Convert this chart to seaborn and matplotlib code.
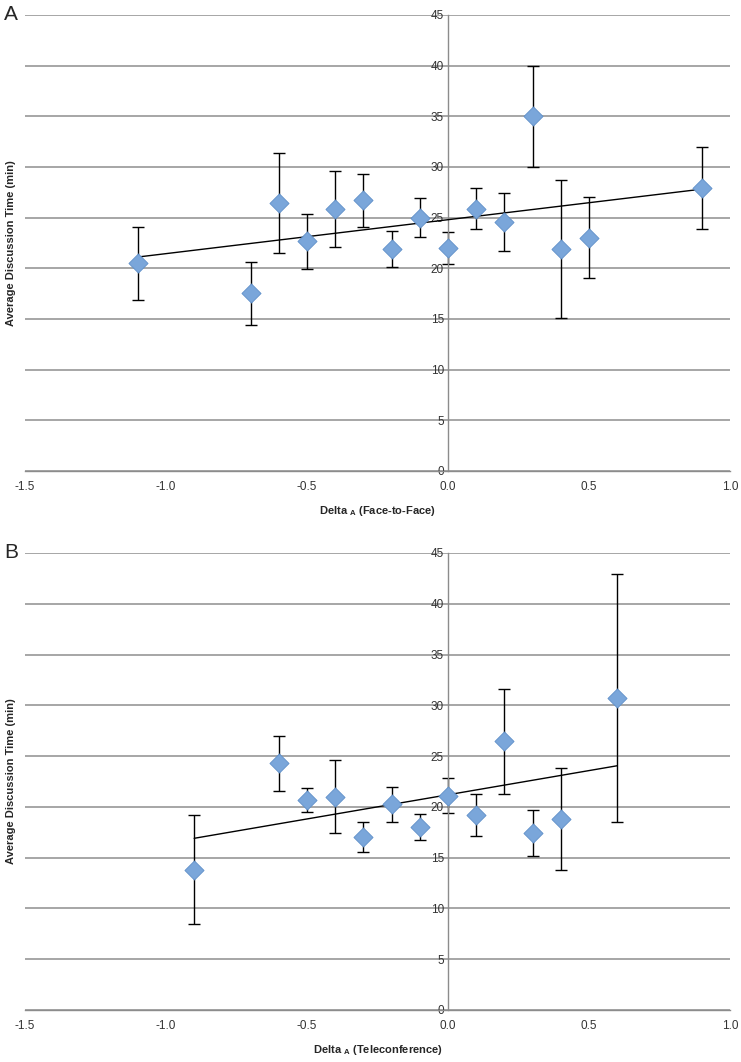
import numpy as np
import pandas as pd
import matplotlib
matplotlib.use("Agg")
import matplotlib.pyplot as plt
import seaborn as sns

# Panel A: face-to-face
delta_f2f = [-1.1, -0.7, -0.6, -0.5, -0.4, -0.3, -0.2, -0.1, 0.0, 0.1, 0.2, 0.3, 0.4, 0.5, 0.9]
time_f2f = [20.5, 17.55, 26.45, 22.65, 25.9, 26.7, 21.9, 25.0, 22.0, 25.9, 24.6, 35.0, 21.9, 23.0, 27.9]
err_f2f = [3.6, 3.1, 4.9, 2.7, 3.75, 2.65, 1.8, 1.9, 1.6, 2.05, 2.85, 5.0, 6.8, 4.0, 4.05]

# Panel B: teleconference
delta_tele = [-0.9, -0.6, -0.5, -0.4, -0.3, -0.2, -0.1, 0.0, 0.1, 0.2, 0.3, 0.4, 0.6]
time_tele = [13.8, 24.3, 20.7, 21.0, 17.05, 20.25, 18.0, 21.1, 19.2, 26.45, 17.45, 18.8, 30.7]
err_tele = [5.35, 2.7, 1.2, 3.6, 1.45, 1.7, 1.3, 1.7, 2.05, 5.15, 2.25, 5.05, 12.2]

x_ticks = [-1.5, -1.0, -0.5, 0.0, 0.5, 1.0]
y_ticks = [0, 5, 10, 15, 20, 25, 30, 35, 40, 45]

sns.set_style("white")
plt.rcParams["font.family"] = ["Liberation Sans", "DejaVu Sans"]
plt.rcParams["mathtext.fontset"] = "custom"
plt.rcParams["mathtext.rm"] = "Liberation Sans"
plt.rcParams["mathtext.bf"] = "Liberation Sans:bold"

GRID = "#a6a6a6"
AXIS = "#8c8c8c"
MARKER = "#7aa6da"


def draw_panel(ax, x, y, err, xlabel, tag):
    df = pd.DataFrame({"delta": x, "time": y, "err": err})

    ax.errorbar(df["delta"], df["time"], yerr=df["err"], fmt="none",
                ecolor="black", elinewidth=1.0, capsize=4, capthick=1.0, zorder=2)
    sns.regplot(data=df, x="delta", y="time", ax=ax, scatter=False, ci=None,
                truncate=True, line_kws={"color": "black", "lw": 1.0, "zorder": 3})
    sns.scatterplot(data=df, x="delta", y="time", ax=ax, marker="D", s=95,
                    color=MARKER, edgecolor="#5f8fc9", linewidth=0.6, zorder=4)

    ax.set_xlim(-1.5, 1.0)
    ax.set_ylim(0, 45)
    ax.set_xticks(x_ticks)
    ax.set_xticklabels([f"{t:.1f}" for t in x_ticks])
    ax.set_yticks(y_ticks)

    ax.grid(axis="y", color=GRID, lw=1.4)
    ax.grid(axis="x", visible=False)
    ax.set_axisbelow(True)

    for s in ["top", "right"]:
        ax.spines[s].set_visible(False)
    ax.spines["left"].set_position(("data", 0))
    ax.spines["left"].set_color(AXIS)
    ax.spines["left"].set_linewidth(1.0)
    ax.spines["bottom"].set_color(AXIS)
    ax.spines["bottom"].set_linewidth(1.0)

    ax.tick_params(axis="x", direction="out", length=4, width=1, color=AXIS,
                   labelsize=8.5, labelcolor="#333333", pad=3)
    ax.tick_params(axis="y", length=0, labelsize=8.5, labelcolor="#333333", pad=3)

    ax.set_xlabel(xlabel, fontsize=8, fontweight="bold", labelpad=8)
    ax.set_ylabel("Average Discussion Time (min)", fontsize=8, fontweight="bold")
    ax.yaxis.set_label_coords(-0.013, 0.5)

    ax.text(-0.03, 1.0, tag, transform=ax.transAxes, fontsize=15,
            ha="left", va="center")


fig = plt.figure(figsize=(7.41, 10.62), dpi=100)
ax_a = fig.add_axes([0.0337, 0.5565, 0.9514, 0.4294])
ax_b = fig.add_axes([0.0337, 0.0490, 0.9514, 0.4303])

draw_panel(ax_a, delta_f2f, time_f2f, err_f2f, r"Delta $_{\mathbf{A}}$ (Face-to-Face)", "A")
draw_panel(ax_b, delta_tele, time_tele, err_tele, r"Delta $_{\mathbf{A}}$ (Teleconference)", "B")

fig.savefig("out.png", dpi=100)
